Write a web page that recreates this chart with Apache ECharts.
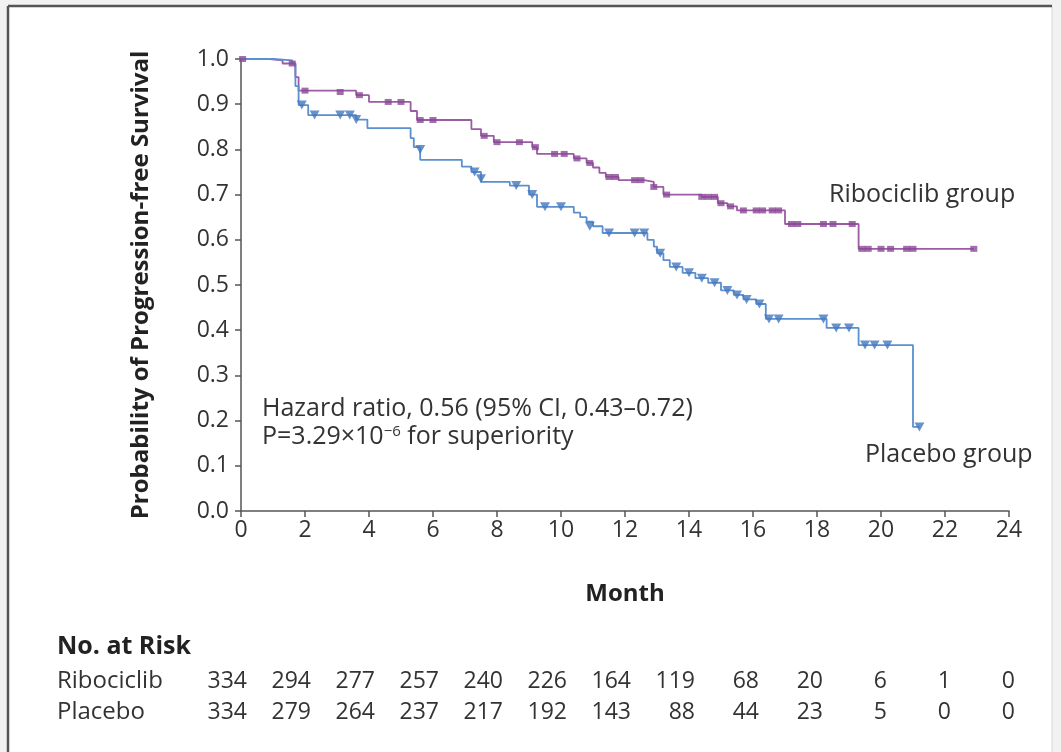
<!DOCTYPE html>
<html>
<head>
<meta charset="utf-8">
<script src="https://cdn.jsdelivr.net/npm/echarts@6/dist/echarts.min.js"></script>
<style>
  html, body { margin: 0; padding: 0; background: #f2f2f2; }
  #chart { width: 1061px; height: 752px; }
</style>
</head>
<body>
<div id="chart"></div>
<script>
// Kaplan-Meier steps: [month, survival after the drop]
var ribSteps = [
  [0, 1.0], [0.9, 0.997], [1.3, 0.99], [1.7, 0.96], [1.8, 0.93], [3.6, 0.92],
  [4.0, 0.905], [5.3, 0.885], [5.5, 0.865], [7.2, 0.845], [7.5, 0.83], [7.9, 0.816],
  [9.1, 0.805], [9.25, 0.79], [10.4, 0.78], [10.8, 0.77], [11.0, 0.76], [11.2, 0.748],
  [11.4, 0.739], [11.8, 0.732], [12.6, 0.728], [12.9, 0.717], [13.2, 0.70], [14.4, 0.695],
  [14.9, 0.681], [15.2, 0.674], [15.5, 0.665], [17.0, 0.635], [19.3, 0.58], [22.9, 0.58]
];
var ribCensor = [
  [0.05, 1.0], [1.6, 0.99], [2.0, 0.93], [3.1, 0.927], [3.7, 0.92], [4.6, 0.905],
  [5.0, 0.905], [5.6, 0.865], [6.0, 0.865], [7.6, 0.83], [8.0, 0.816], [8.7, 0.816],
  [9.2, 0.805], [9.8, 0.79], [10.1, 0.79], [10.5, 0.78], [10.9, 0.77], [11.5, 0.739],
  [11.7, 0.739], [12.3, 0.732], [12.5, 0.732], [12.9, 0.717], [13.3, 0.70], [14.4, 0.695],
  [14.6, 0.695], [14.8, 0.695], [15.0, 0.681], [15.3, 0.674], [15.7, 0.665], [16.1, 0.665],
  [16.3, 0.665], [16.6, 0.665], [16.8, 0.665], [17.2, 0.635], [17.4, 0.635], [18.2, 0.635],
  [18.5, 0.635], [19.1, 0.635], [19.4, 0.58], [19.6, 0.58], [20.0, 0.58], [20.3, 0.58],
  [20.8, 0.58], [21.0, 0.58], [22.9, 0.58]
];
var plaSteps = [
  [0, 1.0], [1.0, 0.997], [1.6, 0.99], [1.7, 0.94], [1.8, 0.898], [2.1, 0.876],
  [3.6, 0.866], [3.95, 0.847], [5.3, 0.825], [5.4, 0.805], [5.6, 0.777], [6.9, 0.762],
  [7.2, 0.75], [7.5, 0.728], [8.4, 0.72], [9.0, 0.70], [9.25, 0.673], [10.4, 0.66],
  [10.6, 0.65], [10.8, 0.64], [11.0, 0.63], [11.3, 0.615], [12.7, 0.60], [12.9, 0.585],
  [13.0, 0.57], [13.2, 0.555], [13.4, 0.54], [13.8, 0.527], [14.2, 0.515], [14.6, 0.505],
  [15.0, 0.488], [15.4, 0.478], [15.7, 0.468], [16.1, 0.458], [16.4, 0.425], [18.3, 0.405],
  [19.3, 0.367], [21.0, 0.186], [21.2, 0.186]
];
var plaCensor = [
  [1.9, 0.898], [2.3, 0.876], [3.1, 0.876], [3.4, 0.876], [3.6, 0.866], [5.6, 0.8],
  [7.3, 0.75], [7.5, 0.735], [8.6, 0.72], [9.1, 0.70], [9.5, 0.673], [10.0, 0.673],
  [10.9, 0.63], [11.5, 0.615], [12.3, 0.615], [12.6, 0.615], [13.1, 0.57], [13.6, 0.54],
  [14.0, 0.527], [14.4, 0.515], [14.8, 0.505], [15.2, 0.488], [15.5, 0.478], [15.8, 0.468],
  [16.2, 0.458], [16.5, 0.425], [16.8, 0.425], [18.2, 0.425], [18.6, 0.405], [19.0, 0.405],
  [19.5, 0.367], [19.8, 0.367], [20.2, 0.367], [21.2, 0.186]
];

// No. at risk table
var riskMonths = [0, 2, 4, 6, 8, 10, 12, 14, 16, 18, 20, 22, 24];
var ribRisk = [334, 294, 277, 257, 240, 226, 164, 119, 68, 20, 6, 1, 0];
var plaRisk = [334, 279, 264, 237, 217, 192, 143, 88, 44, 23, 5, 0, 0];
var riskRows = ['Ribociclib', 'Placebo'];

var purple = '#9c5ba5';
var purpleDark = '#8a4896';
var blue = '#5a8fd0';
var blueDark = '#4577bd';
var txt = '#333333';
var font = 'Open Sans';

var chart = echarts.init(document.getElementById('chart'));

function riskData(values, row) {
  return riskMonths.map(function (m, i) { return [m, row, values[i]]; });
}

var riskLabel = {
  show: true,
  position: 'inside',
  align: 'right',
  offset: [6, 0],
  color: txt,
  opacity: 1,
  fontFamily: font,
  fontSize: 23,
  formatter: function (p) { return p.value[2]; }
};

var option = {
  animation: false,
  backgroundColor: '#f2f2f2',
  textStyle: { fontFamily: font, color: txt },
  graphic: [
    { type: 'rect', z: -10, shape: { x: 8, y: 6, width: 1044, height: 760 },
      style: { fill: '#ffffff', stroke: '#d6d6d6', lineWidth: 1 } },
    { type: 'line', z: -5, shape: { x1: 8, y1: 6, x2: 1052, y2: 6 },
      style: { stroke: '#555', lineWidth: 2.5 } },
    { type: 'line', z: -5, shape: { x1: 8, y1: 6, x2: 8, y2: 752 },
      style: { stroke: '#555', lineWidth: 2.5 } },
    { type: 'text', left: 262, top: 396,
      style: { text: 'Hazard ratio, 0.56 (95% CI, 0.43\u20130.72)', fill: txt, font: '25px "Open Sans"' } },
    { type: 'text', left: 262, top: 424,
      style: {
        text: '{a|P=3.29\u00d710}{s|\u22126}{a| for superiority}',
        fill: txt,
        rich: {
          a: { fontFamily: font, fontSize: 25, lineHeight: 26, color: txt },
          s: { fontFamily: font, fontSize: 15, lineHeight: 16, verticalAlign: 'top', color: txt }
        }
      } },
    { type: 'text', left: 829, top: 182,
      style: { text: 'Ribociclib group', fill: txt, font: '25px "Open Sans"' } },
    { type: 'text', left: 865, top: 442,
      style: { text: 'Placebo group', fill: txt, font: '25px "Open Sans"' } },
    { type: 'text', left: 57, top: 634,
      style: { text: 'No. at Risk', fill: '#222', font: 'bold 25px "Open Sans"' } }
  ],
  grid: [
    { left: 241, right: 52, top: 59, bottom: 241 },
    { left: 241, right: 52, top: 666, height: 62 }
  ],
  xAxis: [
    {
      gridIndex: 0, type: 'value', min: 0, max: 24, interval: 2,
      name: 'Month', nameLocation: 'middle', nameGap: 71,
      nameTextStyle: { fontFamily: font, fontSize: 24, fontWeight: 'bold', color: '#222' },
      axisLine: { lineStyle: { color: '#555', width: 1.5 } },
      axisTick: { length: 6, lineStyle: { color: '#555', width: 1.5 } },
      axisLabel: { margin: 8, fontSize: 23, color: txt, fontFamily: font },
      splitLine: { show: false }
    },
    { gridIndex: 1, type: 'value', min: 0, max: 24, show: false }
  ],
  yAxis: [
    {
      gridIndex: 0, type: 'value', min: 0, max: 1, interval: 0.1,
      name: 'Probability of Progression-free Survival', nameLocation: 'middle', nameGap: 88,
      nameTextStyle: { fontFamily: font, fontSize: 24, fontWeight: 'bold', color: '#222' },
      axisLine: { show: true, lineStyle: { color: '#555', width: 1.5 } },
      axisTick: { show: true, length: 6, lineStyle: { color: '#555', width: 1.5 } },
      axisLabel: { margin: 12, fontSize: 23, color: txt, fontFamily: font,
        formatter: function (v) { return v.toFixed(1); } },
      splitLine: { show: false }
    },
    {
      gridIndex: 1, type: 'category', data: riskRows, inverse: true,
      axisLine: { show: false }, axisTick: { show: false }, splitLine: { show: false },
      axisLabel: { interval: 0, margin: 184, align: 'left', fontSize: 24, color: txt, fontFamily: font }
    }
  ],
  series: [
    {
      name: 'Ribociclib', type: 'line', step: 'end', data: ribSteps,
      showSymbol: false, lineStyle: { color: purple, width: 1.8 }, z: 3
    },
    {
      name: 'Ribociclib censored', type: 'scatter', data: ribCensor,
      symbol: 'rect', symbolSize: [7, 6], itemStyle: { color: purpleDark }, z: 4
    },
    {
      name: 'Placebo', type: 'line', step: 'end', data: plaSteps,
      showSymbol: false, lineStyle: { color: blue, width: 1.8 }, z: 3
    },
    {
      name: 'Placebo censored', type: 'scatter', data: plaCensor,
      symbol: 'triangle', symbolRotate: 180, symbolSize: [10, 9], itemStyle: { color: blueDark }, z: 4
    },
    {
      type: 'scatter', xAxisIndex: 1, yAxisIndex: 1, data: riskData(ribRisk, 'Ribociclib'),
      symbolSize: 1, itemStyle: { color: 'rgba(0,0,0,0)' }, label: riskLabel
    },
    {
      type: 'scatter', xAxisIndex: 1, yAxisIndex: 1, data: riskData(plaRisk, 'Placebo'),
      symbolSize: 1, itemStyle: { color: 'rgba(0,0,0,0)' }, label: riskLabel
    }
  ]
};

chart.setOption(option);
</script>
</body>
</html>
